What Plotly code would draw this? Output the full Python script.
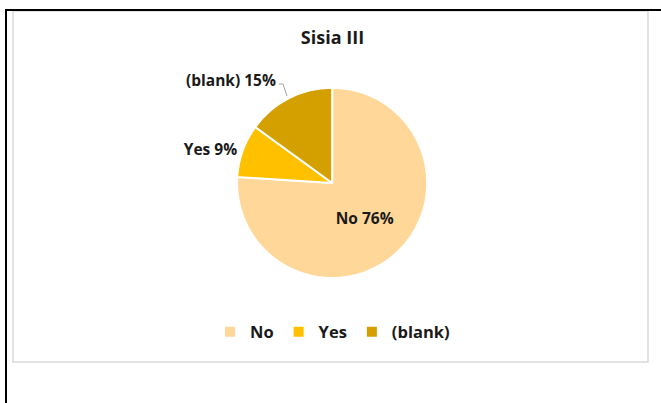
import plotly.graph_objects as go

categories = ["No", "Yes", "(blank)"]
values = [76, 9, 15]
colors = ["#FFD899", "#FFC000", "#D4A000"]
title_text = "Sisia III"

W, H = 661, 403
total = sum(values)
pct = [round(v / total * 100) for v in values]

fig = go.Figure()
fig.add_trace(go.Pie(
    labels=categories,
    values=values,
    sort=False,
    direction="clockwise",
    rotation=0,
    marker=dict(colors=colors, line=dict(color="white", width=2)),
    texttemplate=["%{label} %{percent:.0%}", "%{label} %{percent:.0%}", ""],
    textposition=["inside", "outside", "none"],
    textfont=dict(family="Open Sans", size=15.5, color="#1a1a1a", weight="bold"),
    insidetextorientation="horizontal",
    domain=dict(x=[0.29, 0.715], y=[0.31, 0.782]),
    hoverinfo="label+percent",
))

fig.add_annotation(
    xref="paper", yref="paper", x=278 / W, y=1 - 80 / H, xanchor="right", yanchor="middle",
    text="%s %d%%" % (categories[2], pct[2]), showarrow=False,
    font=dict(family="Open Sans", size=15.5, color="#1a1a1a", weight="bold"),
)

fig.update_layout(
    width=W, height=H,
    margin=dict(l=0, r=0, t=0, b=0),
    paper_bgcolor="white",
    showlegend=True,
    title=dict(text=title_text, x=0.503, xanchor="center",
               y=1 - 38 / H, yanchor="middle",
               font=dict(family="Open Sans", size=18, color="#1a1a1a", weight="bold")),
    legend=dict(orientation="h", x=0.503, xanchor="center", y=1 - 332 / H, yanchor="middle",
                font=dict(family="Open Sans", size=16.5, color="#1a1a1a", weight="bold"),
                itemclick=False),
    shapes=[
        dict(type="rect", xref="paper", yref="paper", x0=13 / W, x1=648 / W,
             y0=1 - 362 / H, y1=1 - 11 / H, line=dict(color="#D9D9D9", width=1.5)),
        dict(type="line", xref="paper", yref="paper", x0=5 / W, x1=1,
             y0=1 - 10 / H, y1=1 - 10 / H, line=dict(color="black", width=2)),
        dict(type="line", xref="paper", yref="paper", x0=6 / W, x1=6 / W,
             y0=0, y1=1 - 10 / H, line=dict(color="black", width=2)),
        # leader line for the (blank) label
        dict(type="path", xref="paper", yref="paper",
             path="M %f,%f L %f,%f L %f,%f" % (279 / W, 1 - 84 / H, 283 / W, 1 - 84 / H,
                                                287 / W, 1 - 96 / H),
             line=dict(color="#A6A6A6", width=1)),
    ],
)

fig.write_html("out.html")
